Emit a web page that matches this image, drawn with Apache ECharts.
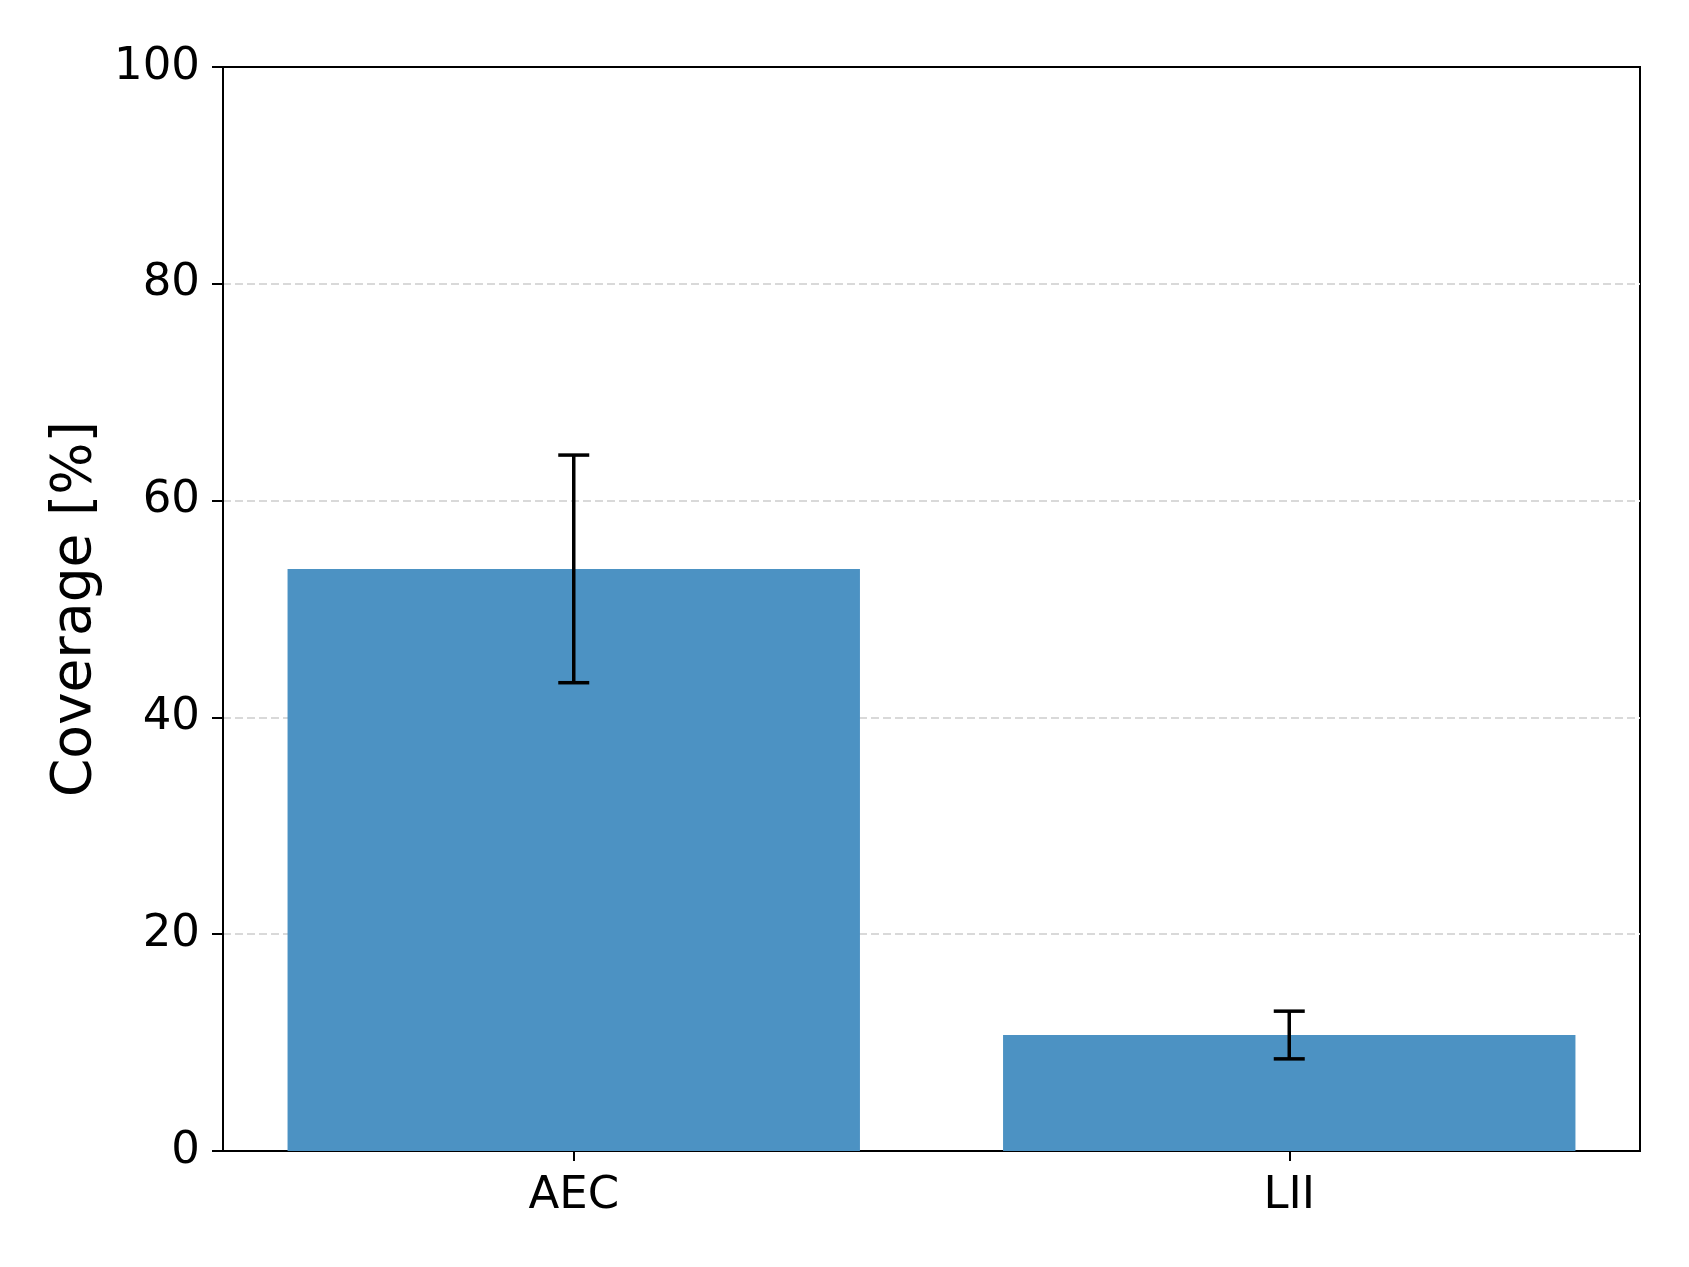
<!DOCTYPE html>
<html>
<head>
<meta charset="utf-8">
<script src="https://cdn.jsdelivr.net/npm/echarts@6/dist/echarts.min.js"></script>
<style>
  html, body { margin: 0; padding: 0; background: #fff; }
  #main { width: 1689px; height: 1267px; }
</style>
</head>
<body>
<div id="main"></div>
<script>
  // values
  const categories = ['AEC', 'LII']
  const coverage = [53.7, 10.7]
  const coverageErr = [10.5, 2.2]
  const yTicks = { min: 0, max: 100, interval: 20 }

  const errData = categories.map(function (c, i) {
    return [i, coverage[i] - coverageErr[i], coverage[i] + coverageErr[i]]
  })

  let chart = echarts.init(document.getElementById('main'))
  const font = 'DejaVu Sans'

  chart.setOption({
    animation: false,
    grid: [
      // frame + y axis
      {
        left: 223, right: 49, top: 67, bottom: 116,
        show: true, borderColor: '#000', borderWidth: 2,
        backgroundColor: 'transparent'
      },
      // bars: matplotlib-like x margins (bands slightly wider than the frame)
      { left: 216, right: 42, top: 67, bottom: 116 }
    ],
    xAxis: [
      {
        gridIndex: 0,
        type: 'value', min: 0, max: 1,
        axisLine: { show: true, lineStyle: { color: '#000', width: 2 } },
        axisTick: { show: false },
        axisLabel: { show: false },
        splitLine: { show: false }
      },
      {
        gridIndex: 1,
        type: 'category',
        data: categories,
        axisLine: { show: false },
        axisTick: { show: true, alignWithLabel: true, length: 10, lineStyle: { color: '#000', width: 2 } },
        axisLabel: { color: '#000', fontSize: 45, fontFamily: font, margin: 23 },
        splitLine: { show: false }
      }
    ],
    yAxis: [
      {
        gridIndex: 0,
        type: 'value',
        min: yTicks.min,
        max: yTicks.max,
        interval: yTicks.interval,
        name: 'Coverage [%]',
        nameLocation: 'middle',
        nameGap: 120,
        nameTextStyle: { color: '#000', fontSize: 55, fontFamily: font },
        axisLine: { show: true, lineStyle: { color: '#000', width: 2 } },
        axisTick: { show: true, length: 11, lineStyle: { color: '#000', width: 2 } },
        axisLabel: { color: '#000', fontSize: 45, fontFamily: font, margin: 23 },
        splitLine: {
          show: true,
          showMinLine: false,
          showMaxLine: false,
          lineStyle: { color: '#d9d9d9', width: 2, type: [8, 4] }
        }
      },
      {
        gridIndex: 1,
        type: 'value',
        min: yTicks.min,
        max: yTicks.max,
        show: false
      }
    ],
    series: [
      {
        type: 'bar',
        xAxisIndex: 1,
        yAxisIndex: 1,
        data: coverage,
        barWidth: '80%',
        itemStyle: { color: '#4c92c3' },
        z: 2
      },
      {
        type: 'custom',
        xAxisIndex: 1,
        yAxisIndex: 1,
        data: errData,
        z: 5,
        renderItem: function (params, api) {
          let x = api.value(0)
          let lo = api.coord([x, api.value(1)])
          let hi = api.coord([x, api.value(2)])
          let half = 15.5
          let style = { stroke: '#000', lineWidth: 3.5 }
          return {
            type: 'group',
            children: [
              { type: 'line', shape: { x1: lo[0], y1: lo[1], x2: hi[0], y2: hi[1] }, style: style },
              { type: 'line', shape: { x1: lo[0] - half, y1: lo[1], x2: lo[0] + half, y2: lo[1] }, style: style },
              { type: 'line', shape: { x1: hi[0] - half, y1: hi[1], x2: hi[0] + half, y2: hi[1] }, style: style }
            ]
          }
        }
      }
    ]
  })
</script>
</body>
</html>
